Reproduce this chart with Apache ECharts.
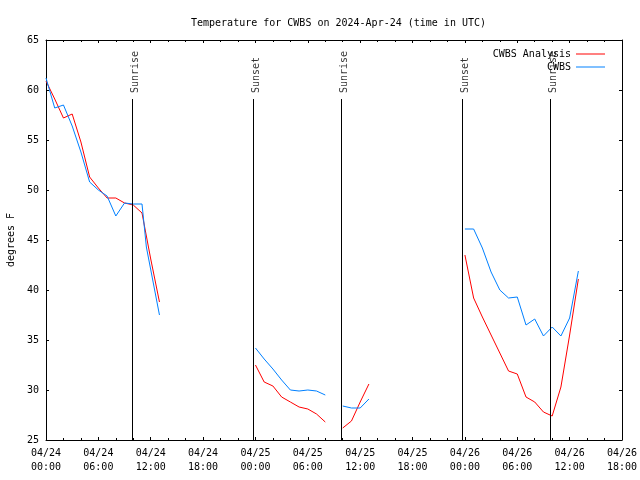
<!DOCTYPE html>
<html><head><meta charset="utf-8">
<script src="https://cdn.jsdelivr.net/npm/echarts@6/dist/echarts.min.js"></script>
<style>html,body{margin:0;padding:0;background:#fff}#c{width:640px;height:480px}</style>
</head><body><div id="c"></div>
<script>
// x values are hours since 2024-04-24 00:00 UTC
const xTickLabels = ['04/24\n00:00','04/24\n06:00','04/24\n12:00','04/24\n18:00','04/25\n00:00','04/25\n06:00','04/25\n12:00','04/25\n18:00','04/26\n00:00','04/26\n06:00','04/26\n12:00','04/26\n18:00'];
const yTickValues = [25,30,35,40,45,50,55,60,65];

const analysisHours = [0,1,2,3,4,5,6,7,8,9,10,11,12,13, 18, 24,25,26,27,28,29,30,31,32, 33, 34,35,36,37, 42, 48,49,50,51,52,53,54,55,56,57,58,59,60,61];
const analysisTemps = [60.9,59.1,57.2,57.6,54.8,51.3,50.2,49.2,49.2,48.7,48.5,47.7,43.1,38.8, null, 32.5,30.8,30.4,29.3,28.8,28.3,28.1,27.6,26.8, null, 26.2,26.9,28.8,30.6, null, 43.5,39.2,37.3,35.5,33.7,31.9,31.6,29.3,28.8,27.8,27.4,30.3,35.5,41.1];

const cwbsHours = [0,1,2,3,4,5,6,7,8,9,10,11,11.5,13, 18, 24,25,26,27,28,29,30,31,32, 33, 34,35,36,37, 42, 48,49,50,51,52,53,54,55,56,57,58,59,60,61];
const cwbsTemps = [61.2,58.2,58.5,56.4,53.8,50.8,50.0,49.4,47.4,48.7,48.6,48.6,44.3,37.5, null, 34.2,33.1,32.1,31.0,30.0,29.9,30.0,29.9,29.5, null, 28.4,28.2,28.2,29.1, null, 46.1,46.1,44.2,41.8,40.0,39.2,39.3,36.5,37.1,35.4,36.3,35.4,37.2,41.9];

const sunHours = [9.9, 23.76, 33.8, 47.7, 57.83];
const sunNames = ['Sunrise','Sunset','Sunrise','Sunset','Sunrise'];
const sunLineTop = 59.1;

const FONT = 'DejaVu Sans Mono';
const pairs = (xs, ys) => xs.map((x, i) => [x, ys[i] === null ? '-' : ys[i]]);

const chart = echarts.init(document.getElementById('c'), null, {renderer: 'canvas'});
const xBase = {
  type: 'value', min: 0, max: 66, interval: 6,
  axisLine: {show: true, onZero: false, lineStyle: {color: '#000', width: 1}},
  axisTick: {show: true, inside: true, length: 3, lineStyle: {color: '#000'}},
  minorTick: {show: true, splitNumber: 3, length: 2, lineStyle: {color: '#000'}},
  splitLine: {show: false}
};
const yBase = {
  type: 'value', min: 25, max: 65, interval: 5,
  axisLine: {show: true, onZero: false, lineStyle: {color: '#000', width: 1}},
  axisTick: {show: true, inside: true, length: 3, lineStyle: {color: '#000'}},
  splitLine: {show: false}
};
chart.setOption({
  animation: false,
  backgroundColor: '#fff',
  title: {
    text: 'Temperature for CWBS on 2024-Apr-24 (time in UTC)',
    left: 186, top: 13,
    textStyle: {fontFamily: FONT, fontSize: 10, fontWeight: 'normal', color: '#000'}
  },
  legend: [
    {data: ['CWBS Analysis'], right: 30, top: 44, align: 'right', icon: 'rect', itemWidth: 29, itemHeight: 1,
     textStyle: {fontFamily: FONT, fontSize: 10, color: '#000'}},
    {data: ['CWBS'], right: 30, top: 57, align: 'right', icon: 'rect', itemWidth: 29, itemHeight: 1,
     textStyle: {fontFamily: FONT, fontSize: 10, color: '#000'}}
  ],
  grid: {left: 46, right: 18, top: 40, bottom: 40, containLabel: false, outerBoundsMode: 'none'},
  xAxis: [
    Object.assign({}, xBase, {
      position: 'bottom',
      axisLabel: {fontFamily: FONT, fontSize: 10, color: '#000', lineHeight: 14, margin: 6,
        formatter: v => xTickLabels[Math.round(v / 6)] || ''}
    }),
    Object.assign({}, xBase, {position: 'top', axisLabel: {show: false}})
  ],
  yAxis: [
    Object.assign({}, yBase, {
      position: 'left',
      name: 'degrees F', nameLocation: 'middle', nameGap: 30, nameRotate: 90,
      nameTextStyle: {fontFamily: FONT, fontSize: 10, color: '#000'},
      axisLabel: {fontFamily: FONT, fontSize: 10, color: '#000', margin: 7,
        formatter: v => yTickValues.includes(v) ? String(v) : ''}
    }),
    Object.assign({}, yBase, {position: 'right', axisLabel: {show: false}})
  ],
  series: [
    {
      name: 'CWBS Analysis', type: 'line', data: pairs(analysisHours, analysisTemps),
      showSymbol: false, symbol: 'none', connectNulls: false,
      lineStyle: {color: '#ff0000', width: 1}, itemStyle: {color: '#ff0000'}
    },
    {
      name: 'CWBS', type: 'line', data: pairs(cwbsHours, cwbsTemps),
      showSymbol: false, symbol: 'none', connectNulls: false,
      lineStyle: {color: '#0080ff', width: 1}, itemStyle: {color: '#0080ff'}
    },
    {
      name: 'sun', type: 'scatter', symbolSize: 0, silent: true,
      data: sunHours.map((h, i) => ({value: [h, sunLineTop], name: sunNames[i]})),
      label: {
        show: true, formatter: p => p.name, position: 'top', distance: 6,
        rotate: 90, align: 'left', verticalAlign: 'middle', offset: [0, 3],
        fontFamily: FONT, fontSize: 10, color: '#000'
      },
      markLine: {
        silent: true, symbol: ['none', 'none'], animation: false,
        label: {show: false},
        lineStyle: {color: '#000', width: 1, type: 'solid'},
        data: sunHours.map(h => [{coord: [h, 25]}, {coord: [h, sunLineTop]}])
      }
    }
  ]
});
</script></body></html>
